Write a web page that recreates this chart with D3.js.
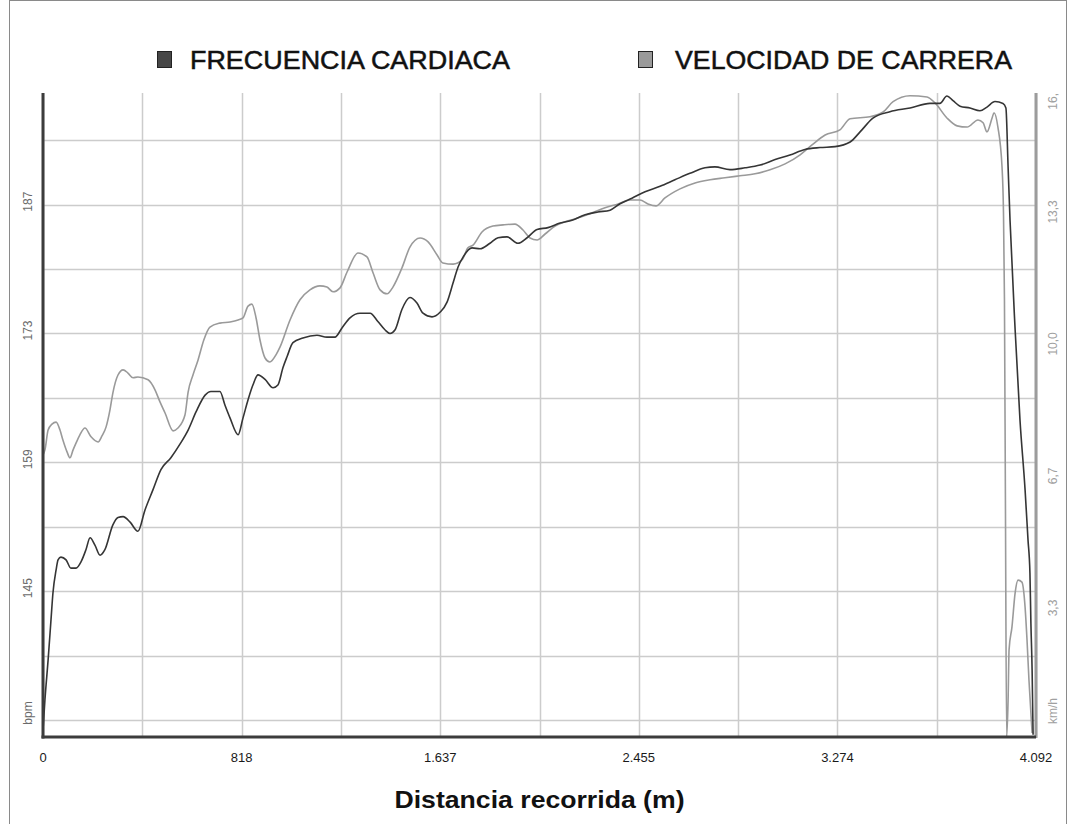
<!DOCTYPE html>
<html>
<head>
<meta charset="utf-8">
<script src="https://cdn.jsdelivr.net/npm/d3@7"></script>
<style>
  html, body { margin: 0; padding: 0; background: #fff; }
  svg { display: block; }
</style>
</head>
<body>
<svg id="chart" width="1067" height="824"></svg>
<script>
// ---------- DATA ----------
const seriesNames = ["FRECUENCIA CARDIACA", "VELOCIDAD DE CARRERA"];
const xTitle = "Distancia recorrida (m)";
const xTickValues = [0, 818.4, 1636.8, 2455.2, 3273.6, 4092];
const xTickLabels = ["0", "818", "1.637", "2.455", "3.274", "4.092"];
const hrTickValues = [145, 159, 173, 187];
const hrTickLabels = ["145", "159", "173", "187"];
const hrGridValues = [131, 138, 145, 152, 159, 166, 173, 180, 187, 194];
const spdTickValues = [3.333, 6.667, 10, 13.333, 16.667];
const spdTickLabels = ["3,3", "6,7", "10,0", "13,3", "16,7"];
const hrUnit = "bpm";
const spdUnit = "km/h";

// Heart rate (bpm) vs distance (m)
const hrDistance = [0,8,21,33,41,54,62,74,95,115,136,157,177,194,214,235,255,288,309,330,359,391,420,453,486,527,565,598,631,668,692,729,750,771,804,824,845,865,886,915,948,968,989,1006,1030,1071,1129,1170,1203,1232,1265,1306,1348,1380,1409,1430,1451,1479,1512,1541,1566,1603,1636,1665,1690,1710,1731,1768,1801,1842,1875,1912,1957,1995,2036,2081,2131,2180,2234,2287,2337,2378,2427,2481,2543,2604,2666,2728,2769,2831,2893,2955,3017,3078,3140,3202,3264,3326,3367,3420,3490,3573,3655,3696,3725,3750,3779,3820,3861,3890,3923,3956,3968,3977,3985,4006,4026,4047,4059,4067,4071,4076,4080];
const hrValues = [129.9,133.2,137.5,141.9,144.8,147.3,148.4,148.7,148.4,147.5,147.5,148.2,149.5,150.8,150.0,148.9,149.5,152.2,153.0,153.1,152.5,151.5,153.8,156.0,158.2,159.5,161.0,162.5,164.5,166.3,166.7,166.7,165.2,163.8,162.0,163.8,165.8,167.4,168.5,168.0,167.1,167.4,169.3,170.5,172.0,172.5,172.8,172.6,172.6,173.6,174.7,175.2,175.2,174.3,173.4,173.0,173.4,175.6,176.9,176.3,175.2,174.8,175.3,176.4,178.5,180.2,181.3,182.3,182.2,182.8,183.4,183.5,182.8,183.4,184.3,184.5,185.0,185.3,185.9,186.2,186.4,187.1,187.7,188.4,189.0,189.7,190.4,191.0,191.1,190.8,191.0,191.3,191.9,192.4,193.0,193.2,193.3,193.8,194.9,196.4,197.1,197.5,198.0,198.0,198.8,198.3,197.7,197.5,197.2,197.6,198.2,198.0,197.5,191.1,185.3,173.4,163.6,156.0,150.6,147.0,141.5,136.4,129.4];

// Running speed (km/h) vs distance (m)
const spdDistance = [0,8,21,37,54,70,82,99,111,124,136,152,173,198,227,243,260,276,288,309,330,350,371,391,433,462,482,503,536,556,585,598,618,639,663,688,729,771,804,824,845,861,878,894,915,935,960,977,1018,1059,1100,1141,1170,1195,1224,1253,1298,1335,1360,1389,1418,1442,1479,1512,1554,1587,1624,1648,1690,1727,1751,1772,1809,1854,1896,1945,1978,2007,2036,2069,2110,2151,2192,2254,2316,2370,2419,2460,2493,2526,2563,2625,2687,2749,2810,2872,2934,2996,3058,3120,3169,3223,3284,3326,3408,3462,3503,3573,3643,3676,3725,3767,3808,3853,3874,3890,3911,3919,3935,3952,3958,3962,3966,3971,3977,3981,3993,4006,4018,4034,4047,4055,4063,4071,4076];
const spdValues = [7.12,7.25,7.75,7.90,7.95,7.75,7.50,7.20,7.05,7.25,7.42,7.63,7.80,7.58,7.45,7.60,7.83,8.26,8.69,9.14,9.27,9.19,9.07,9.09,9.02,8.76,8.46,8.18,7.73,7.80,8.13,8.71,9.14,9.52,10.03,10.35,10.45,10.48,10.53,10.58,10.88,10.93,10.58,10.03,9.57,9.47,9.65,9.85,10.53,11.04,11.29,11.39,11.36,11.24,11.34,11.74,12.22,12.12,11.72,11.29,11.19,11.36,11.84,12.37,12.60,12.50,12.17,11.97,11.94,12.05,12.35,12.42,12.75,12.90,12.93,12.95,12.80,12.60,12.55,12.70,12.90,13.01,13.08,13.21,13.36,13.46,13.56,13.56,13.46,13.41,13.61,13.84,13.99,14.07,14.12,14.17,14.22,14.32,14.47,14.70,14.95,15.20,15.33,15.61,15.66,15.78,16.04,16.19,16.16,16.01,15.63,15.43,15.40,15.58,15.51,15.28,15.63,15.76,15.40,14.39,13.23,11.04,5.98,0,0.93,2.20,2.78,3.64,3.96,3.91,3.28,2.45,1.44,0.61,0.10];

const colors = { hr: "#353535", spd: "#9a9a9a", grid: "#cccccc" };

// ---------- LAYOUT ----------
const W = 1067, H = 824;
const plot = { left: 43, right: 1036, top: 93, bottom: 737 };

const svg = d3.select("#chart");
svg.append("rect").attr("width", W).attr("height", H).attr("fill", "#fff");

// frame
svg.append("rect")
  .attr("x", 9.5).attr("y", 0.5).attr("width", W - 10).attr("height", H + 10)
  .attr("fill", "none").attr("stroke", "#8a8a8a").attr("stroke-width", 1);

const x = d3.scaleLinear().domain([0, 4092]).range([plot.left, plot.right]);
const yHR = d3.scaleLinear().domain([129.15, 199.13]).range([plot.bottom, plot.top]);
const ySpd = d3.scaleLinear().domain([0, 16.26]).range([plot.bottom, plot.top]);

// gridlines
const xGrid = d3.range(0, 11).map(i => i * 409.2);
svg.append("g").selectAll("line").data(xGrid).join("line")
  .attr("x1", d => Math.round(x(d)) + 0.5).attr("x2", d => Math.round(x(d)) + 0.5)
  .attr("y1", plot.top).attr("y2", plot.bottom)
  .attr("stroke", colors.grid).attr("stroke-width", 1.5);
svg.append("g").selectAll("line").data(hrGridValues).join("line")
  .attr("x1", plot.left).attr("x2", plot.right)
  .attr("y1", d => Math.round(yHR(d)) + 0.5).attr("y2", d => Math.round(yHR(d)) + 0.5)
  .attr("stroke", colors.grid).attr("stroke-width", 1.5);

// series
const lineSpd = d3.line()
  .x((d, i) => x(spdDistance[i])).y(d => ySpd(d))
  .curve(d3.curveMonotoneX);
const lineHR = d3.line()
  .x((d, i) => x(hrDistance[i])).y(d => yHR(d))
  .curve(d3.curveMonotoneX);

svg.append("path").datum(spdValues).attr("d", lineSpd)
  .attr("fill", "none").attr("stroke", colors.spd).attr("stroke-width", 1.6);
svg.append("path").datum(hrValues).attr("d", lineHR)
  .attr("fill", "none").attr("stroke", colors.hr).attr("stroke-width", 1.6);

// axes lines
svg.append("line").attr("x1", plot.right).attr("x2", plot.right)
  .attr("y1", plot.top).attr("y2", plot.bottom + 1)
  .attr("stroke", "#9c9c9c").attr("stroke-width", 3);
svg.append("line").attr("x1", plot.left).attr("x2", plot.left)
  .attr("y1", plot.top).attr("y2", plot.bottom + 1.5)
  .attr("stroke", "#3c3c3c").attr("stroke-width", 3);
svg.append("line").attr("x1", plot.left - 1.5).attr("x2", plot.right)
  .attr("y1", plot.bottom).attr("y2", plot.bottom)
  .attr("stroke", "#3c3c3c").attr("stroke-width", 3);

// x tick labels
svg.append("g").selectAll("text").data(xTickValues).join("text")
  .attr("x", d => x(d)).attr("y", 762)
  .attr("text-anchor", "middle")
  .attr("font-family", "'Liberation Sans', Arial, sans-serif")
  .attr("font-size", 13).attr("fill", "#1a1a1a")
  .text((d, i) => xTickLabels[i]);

// x title
svg.append("text").attr("x", (plot.left + plot.right) / 2).attr("y", 808)
  .attr("text-anchor", "middle")
  .attr("font-family", "'Liberation Sans', Arial, sans-serif")
  .attr("font-size", 24).attr("font-weight", "bold").attr("fill", "#111")
  .attr("textLength", 290).attr("lengthAdjust", "spacingAndGlyphs")
  .text(xTitle);

// left labels (rotated)
const leftX = 28;
const leftG = svg.append("g")
  .attr("font-family", "'Liberation Sans', Arial, sans-serif")
  .attr("font-size", 12).attr("fill", "#6a6a6a");
hrTickValues.forEach((v, i) => {
  const yy = yHR(v) - 3;
  leftG.append("text")
    .attr("transform", `translate(${leftX + 4},${yy}) rotate(-90)`)
    .attr("text-anchor", "middle")
    .text(hrTickLabels[i]);
});
leftG.append("text")
  .attr("transform", `translate(${leftX + 4},${plot.bottom - 24}) rotate(-90)`)
  .attr("text-anchor", "middle").text(hrUnit);

// right labels (rotated)
svg.append("defs").append("clipPath").attr("id", "rclip")
  .append("rect").attr("x", 1040).attr("y", 93).attr("width", 30).attr("height", 700);
const rightX = 1057;
const rightG = svg.append("g").attr("clip-path", "url(#rclip)")
  .attr("font-family", "'Liberation Sans', Arial, sans-serif")
  .attr("font-size", 12).attr("fill", "#a0a0a0");
spdTickValues.forEach((v, i) => {
  const yy = Math.max(ySpd(v) + 3, plot.top + 5);
  rightG.append("text")
    .attr("transform", `translate(${rightX},${yy}) rotate(-90)`)
    .attr("text-anchor", "middle")
    .text(spdTickLabels[i]);
});
rightG.append("text")
  .attr("transform", `translate(${rightX},${plot.bottom - 26}) rotate(-90)`)
  .attr("text-anchor", "middle").text(spdUnit);

// legend
const legend = [
  { name: seriesNames[0], sx: 157, tx: 190, tw: 320, fill: "#474747" },
  { name: seriesNames[1], sx: 638, tx: 675, tw: 337, fill: "#9a9a9a" }
];
const lg = svg.append("g");
legend.forEach(l => {
  lg.append("rect").attr("x", l.sx + 0.5).attr("y", 51.5).attr("width", 14).attr("height", 16)
    .attr("fill", l.fill).attr("stroke", "#222").attr("stroke-width", 1);
  lg.append("text").attr("x", l.tx).attr("y", 69)
    .attr("font-family", "'Liberation Sans', Arial, sans-serif")
    .attr("font-size", 25).attr("fill", "#111")
    .attr("stroke", "#111").attr("stroke-width", 0.5)
    .attr("textLength", l.tw).attr("lengthAdjust", "spacingAndGlyphs")
    .text(l.name);
});
</script>
</body>
</html>
